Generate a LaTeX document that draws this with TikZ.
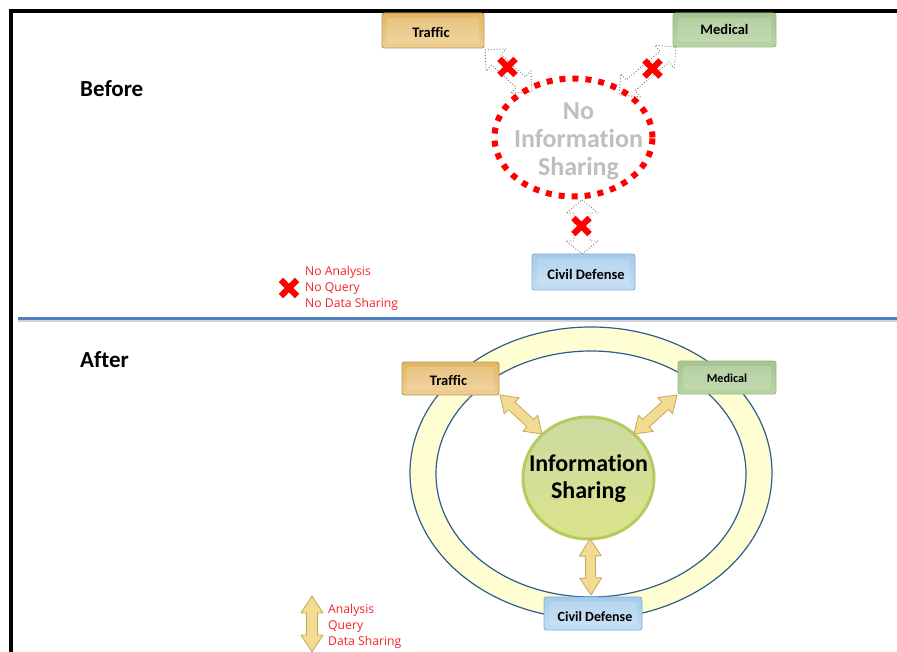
\documentclass[tikz,border=0pt]{standalone}
\usepackage{fontspec}
\setmainfont{Carlito}[Ligatures=NoCommon]
\newfontfamily\legendfont{Open Sans}
\usetikzlibrary{calc,shapes.misc,shapes.geometric}
\definecolor{frameblue}{HTML}{4F81BD}
\definecolor{ringfill}{HTML}{FEFED2}
\definecolor{ringline}{HTML}{2F5D8C}
\definecolor{arrowfill}{HTML}{F3DB92}
\definecolor{arrowline}{HTML}{C2A95E}
\definecolor{legendred}{HTML}{F5222D}
\definecolor{ambertop}{HTML}{E2B664}
\definecolor{amberbot}{HTML}{EFCE92}
\definecolor{amberline}{HTML}{B9975B}
\definecolor{greenline}{HTML}{9DB58A}
\definecolor{greentop}{HTML}{A6C48F}
\definecolor{greenbot}{HTML}{B9D5A5}
\definecolor{blueline}{HTML}{7FB2DE}
\definecolor{bluetop}{HTML}{A5CBEA}
\definecolor{bluebot}{HTML}{C3DDF3}
\definecolor{hubline}{HTML}{B5CB5E}
\definecolor{hubtop}{HTML}{CBDBA2}
\definecolor{hubbot}{HTML}{DBE38A}
\tikzset{
  x=1pt,y=-1pt,
  boxbase/.style={rounded corners=2.5pt,minimum height=34pt,inner sep=0pt,font=\bfseries\fontsize{14.5}{16}\selectfont,text=black,line width=.9pt,text depth=0pt,text height=14.9pt,
    path picture={\fill[white,opacity=.16] ([shift={(5pt,-5pt)}]path picture bounding box.north west) rectangle ([shift={(-5pt,5pt)}]path picture bounding box.south east);}},
  trafficbox/.style={boxbase,draw=amberline,top color=ambertop,bottom color=amberbot},
  medicalbox/.style={boxbase,draw=greenline,top color=greentop,bottom color=greenbot},
  civilbox/.style={boxbase,draw=blueline,top color=bluetop,bottom color=bluebot},
  headingtext/.style={font=\bfseries\fontsize{23}{25}\selectfont,text=black,anchor=west,inner sep=0pt},
  legendtext/.style={font=\legendfont\fontsize{12.2}{15.8}\selectfont,text=legendred,align=left,anchor=west,inner sep=0pt},
  redx/.style={cross out,draw=red,line width=6.2pt,minimum size=10pt,inner sep=0pt},
  goodarrow/.style={fill=arrowfill,draw=arrowline,line width=.8pt,line join=round},
  deadarrow/.style={draw=black!55,dotted,line width=.9pt,fill=none,line join=round},
}
% double block arrow from #2 to #3, head length #4, head half width #5, shaft half width #6
\newcommand{\blockarrow}[6]{%
  \path[#1] let \p1=($(#3)-(#2)$), \n1={veclen(\x1,\y1)}, \n2={atan2(\y1,\x1)} in
    [shift={(#2)},rotate=\n2]
    (0pt,0pt) -- (#4pt,#5pt) -- (#4pt,#6pt) -- (\n1-#4pt,#6pt) -- (\n1-#4pt,#5pt) -- (\n1,0pt)
    -- (\n1-#4pt,-#5pt) -- (\n1-#4pt,-#6pt) -- (#4pt,-#6pt) -- (#4pt,-#5pt) -- cycle;}
\begin{document}
\begin{tikzpicture}
\useasboundingbox (0,0) rectangle (897,652);
\fill[white] (0,0) rectangle (897,652);
\draw[line width=4pt,black] (11,652) -- (11,11) -- (897,11);
\fill[black!18] (18,320.5) rectangle (897,322);
\fill[frameblue] (18,317.5) rectangle (897,320.5);

% Before
\node[headingtext] (before) at (80,89) {Before};
\node[trafficbox,minimum width=102pt,minimum height=35pt] (t1) at (433,30.5) {\hspace*{-4pt}Traffic};
\node[medicalbox,minimum width=103pt,text height=8.9pt] (m1) at (724.5,30) {Medical};
\node[civilbox,minimum width=103pt,minimum height=36pt] (c1) at (583.5,272) {\hspace*{5pt}Civil Defense};
\coordinate (ta) at (485,50); \coordinate (tb) at (532,92);
\coordinate (ma) at (676,47); \coordinate (mb) at (619,95);
\coordinate (ca) at (582,200); \coordinate (cb) at (582,254);
\blockarrow{deadarrow}{ta}{tb}{15}{15}{7}
\blockarrow{deadarrow}{ma}{mb}{15}{15}{7}
\blockarrow{deadarrow}{ca}{cb}{13}{16}{8}
\node[ellipse,draw=red,dash pattern=on 6pt off 7pt,line width=6pt,minimum width=158pt,minimum height=118pt,inner sep=0pt,
  label={[font=\bfseries\fontsize{26}{28}\selectfont,text=black!25,align=center,inner sep=0pt,xshift=5pt,yshift=-3.5pt]center:No\\Information\\Sharing}] (noinfo) at (573.5,137.5) {};
\node[redx] (x1) at (507.5,67) {};
\node[redx] (x2) at (652.5,68.5) {};
\node[redx] (x3) at (581.5,226) {};
\node[redx] (x4) at (289,288) {};
\node[legendtext] (nolegend) at (305,288.5) {No Analysis\\No Query\\No Data Sharing};

% After
\node[headingtext] (after) at (80,360) {After};
\path[fill=ringfill,draw=ringline,line width=1.2pt,even odd rule]
  (591,473) ellipse [x radius=181,y radius=146]
  (591,474) ellipse [x radius=155,y radius=123];
\node[trafficbox,minimum width=97pt,minimum height=33pt] (t2) at (450.5,378.5) {\hspace*{-4pt}Traffic};
\node[medicalbox,minimum width=98pt,minimum height=33pt,text height=10.9pt,font=\bfseries\fontsize{12.2}{14}\selectfont] (m2) at (727,377.5) {Medical};
\node[civilbox,minimum width=98pt,minimum height=33pt,text height=16pt,font=\bfseries\fontsize{14}{16}\selectfont] (c2) at (593,613.5) {\hspace*{4pt}Civil Defense};
\node[ellipse,minimum width=131pt,minimum height=122pt,inner sep=0pt,draw=hubline,line width=3pt,top color=hubtop,bottom color=hubbot,
  label={[font=\bfseries\fontsize{24}{27}\selectfont,text=black,align=center,inner sep=0pt,yshift=-1pt]center:Information\\Sharing}] (hub) at (588.5,478) {};
\coordinate (tc) at (500,395); \coordinate (td) at (542,434);
\coordinate (mc) at (677,395); \coordinate (md) at (634,434);
\coordinate (cc) at (590,539); \coordinate (cd) at (591,595);
\blockarrow{goodarrow}{tc}{td}{16}{11}{5}
\blockarrow{goodarrow}{mc}{md}{16}{11}{5}
\blockarrow{goodarrow}{cc}{cd}{17}{11}{5}
\coordinate (la) at (312,596); \coordinate (lb) at (312,652);
\blockarrow{goodarrow}{la}{lb}{17}{11}{5.5}
\node[legendtext] (legend) at (328,626.5) {Analysis\\Query\\Data Sharing};
\end{tikzpicture}
\end{document}
